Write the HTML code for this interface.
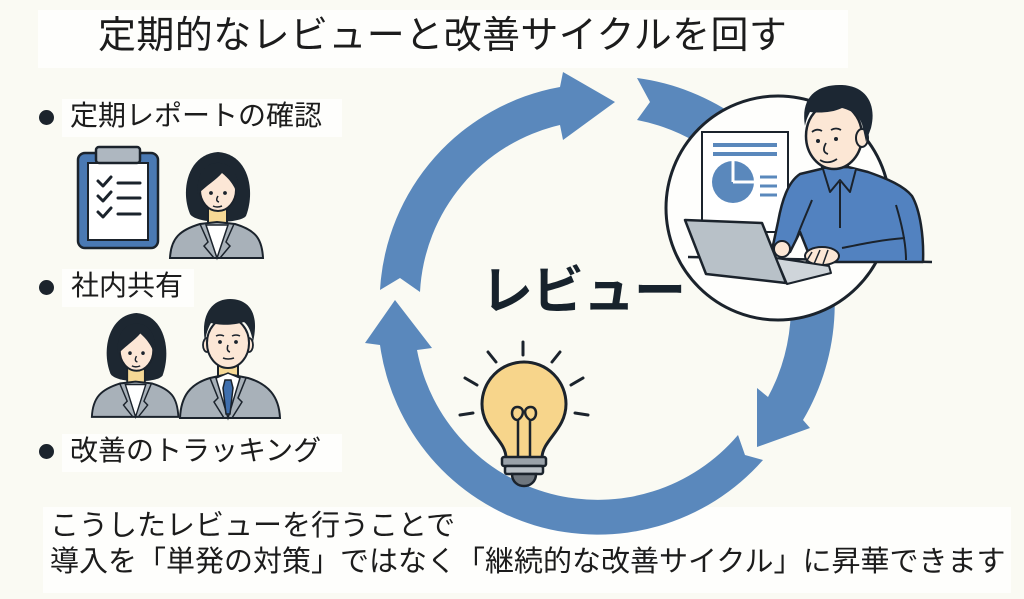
<!DOCTYPE html>
<html lang="ja">
<head>
<meta charset="utf-8">
<style>
  html,body{margin:0;padding:0;}
  body{width:1024px;height:599px;overflow:hidden;background:#fafaf3;position:relative;
       font-family:"Liberation Sans","Noto Sans CJK JP",sans-serif;color:#1c1c1c;}
  .box{position:absolute;background:#fefefc;}
  .t{position:absolute;white-space:nowrap;line-height:1;}
  .dot{position:absolute;width:15px;height:15px;border-radius:50%;background:#1b232c;}
  svg{position:absolute;left:0;top:0;}
</style>
</head>
<body>
<div class="box" style="left:38px;top:10px;width:810px;height:58px;"></div>
<div class="box" style="left:62px;top:99px;width:280px;height:38px;"></div>
<div class="box" style="left:62px;top:269px;width:132px;height:38px;"></div>
<div class="box" style="left:62px;top:434px;width:280px;height:38px;"></div>
<div class="box" style="left:43px;top:507px;width:968px;height:86px;"></div>

<svg width="1024" height="599" viewBox="0 0 1024 599" xmlns="http://www.w3.org/2000/svg">
  <!-- Cycle arrows -->
  <g fill="#5a88bc" stroke="none">
    <path d="M380 290 L400 278 L420 292 A181 181 0 0 1 560 125 L563 140 L615 102 L563 72 L560 87 A219 219 0 0 0 380 290 Z"/>
    <path d="M637 78 L650 102 L637 120 A190 190 0 0 1 768 397 L757 388 L757 447 L810 428 L803 420 A228 228 0 0 0 637 78 Z"/>
    <path d="M763 460 L745 455 L738 435 A184 184 0 0 1 417 350 L432 348 L395 300 L365 343 L380 345 A220 220 0 0 0 763 460 Z"/>
  </g>

  <!-- Reviewer circle -->
  <circle cx="778" cy="208" r="112" fill="#fefefc" stroke="#1b232c" stroke-width="3"/>
  <!-- document -->
  <rect x="702" y="132" width="86" height="100" fill="#fff" stroke="#1b232c" stroke-width="2"/>
  <g stroke="#5a88bc" stroke-width="4">
    <line x1="713" y1="145" x2="777" y2="145"/>
    <line x1="713" y1="154" x2="777" y2="154"/>
  </g>
  <circle cx="733" cy="182" r="21" fill="#5a88bc"/>
  <path d="M733 182 L733 160 M733 182 L755 182" stroke="#fff" stroke-width="3"/>
  <g stroke="#5a88bc" stroke-width="3">
    <line x1="760" y1="177" x2="777" y2="177"/>
    <line x1="760" y1="186" x2="777" y2="186"/>
    <line x1="760" y1="195" x2="777" y2="195"/>
  </g>
  <!-- desk line -->
  <line x1="688" y1="257" x2="932" y2="262" stroke="#1b232c" stroke-width="2.5"/>
  <!-- man -->
  <rect x="822" y="156" width="26" height="18" fill="#fce7d5" stroke="#1b232c" stroke-width="2"/>
  <path d="M800 174 C788 182 782 200 778 222 L772 250 L790 252 L800 232 L812 262 L923 262 C924 236 920 210 912 196 C904 186 888 179 868 172 L848 167 L825 168 Z" fill="#5282c0" stroke="#1b232c" stroke-width="2.5" stroke-linejoin="round"/>
  <path d="M823 169 L830 192 L840 180 L850 192 L856 169" fill="#5282c0" stroke="#1b232c" stroke-width="2" stroke-linejoin="round"/>
  <path d="M840 182 L840 228 M896 205 C902 225 906 245 906 260 M905 238 C880 240 862 244 842 248 M812 200 C806 215 800 228 796 240" fill="none" stroke="#1b232c" stroke-width="2"/>
  <ellipse cx="834" cy="136" rx="28" ry="33" fill="#fce7d5" stroke="#1b232c" stroke-width="2.5"/>
  <ellipse cx="862" cy="138" rx="6" ry="9" fill="#fce7d5" stroke="#1b232c" stroke-width="2"/>
  <path d="M805 126 C800 96 818 84 842 85 C866 86 877 104 871 128 L866 142 L862 124 C858 114 850 110 842 108 C832 113 818 113 810 112 C808 116 806 120 805 126 Z" fill="#1c2733"/>
  <circle cx="818" cy="141" r="2" fill="#1b232c"/>
  <circle cx="836" cy="139" r="2" fill="#1b232c"/>
  <path d="M812 132 Q817 128 822 131 M831 130 Q836 127 841 130" fill="none" stroke="#1b232c" stroke-width="1.8"/>
  <path d="M826 143 Q821 152 828 154" fill="none" stroke="#1b232c" stroke-width="1.8"/>
  <path d="M820 160 Q828 165 837 159" fill="none" stroke="#1b232c" stroke-width="1.8"/>
  <!-- hands -->
  <ellipse cx="782" cy="249" rx="8" ry="8" fill="#fce7d5" stroke="#1b232c" stroke-width="2"/>
  <ellipse cx="822" cy="256" rx="17" ry="9" fill="#fce7d5" stroke="#1b232c" stroke-width="2"/>
  <path d="M812 252 L806 262 M820 250 L814 264 M828 250 L823 264" stroke="#1b232c" stroke-width="1.5"/>
  <!-- laptop -->
  <polygon points="685,220 762,223 786,283 706,274" fill="#b8c1c8" stroke="#1b232c" stroke-width="2.5" stroke-linejoin="round"/>
  <polygon points="776,258 829,266 831,273 787,284" fill="#cfd5da" stroke="#1b232c" stroke-width="2" stroke-linejoin="round"/>

  <!-- Bulb -->
  <g stroke="#1b232c" stroke-width="3" stroke-linecap="round">
    <line x1="523" y1="342" x2="523" y2="355"/>
    <line x1="488" y1="352" x2="496" y2="362"/>
    <line x1="560" y1="352" x2="552" y2="362"/>
    <line x1="465" y1="378" x2="477" y2="385"/>
    <line x1="583" y1="378" x2="571" y2="385"/>
    <line x1="460" y1="415" x2="473" y2="413"/>
    <line x1="575" y1="413" x2="588" y2="415"/>
  </g>
  <path d="M506 458 C506 440 482 430 482 404 A42 42 0 1 1 566 404 C566 430 542 440 542 458 Z" fill="#f7d58b" stroke="#1b232c" stroke-width="3"/>
  <path d="M518 458 L518 420 C510 420 510 406 518 407 C525 408 524 416 518 420 M530 458 L530 420 C538 420 538 406 530 407 C523 408 524 416 530 420" fill="none" stroke="#1b232c" stroke-width="2.5"/>
  <rect x="502" y="457" width="44" height="9" rx="2" fill="#9aa2aa" stroke="#1b232c" stroke-width="2.5"/>
  <rect x="505" y="466" width="38" height="8" rx="2" fill="#b9c0c6" stroke="#1b232c" stroke-width="2.5"/>
  <path d="M512 474 L536 474 C536 482 530 486 524 486 C518 486 512 482 512 474 Z" fill="#6e767e" stroke="#1b232c" stroke-width="2.5"/>

  <!-- Clipboard -->
  <rect x="78" y="153" width="80" height="95" rx="7" fill="#4a79b3" stroke="#1b232c" stroke-width="2.5"/>
  <rect x="88" y="163" width="60" height="77" fill="#fff" stroke="#1b232c" stroke-width="2"/>
  <rect x="96" y="147" width="44" height="16" rx="3" fill="#aeb7c0" stroke="#1b232c" stroke-width="2.5"/>
  <g fill="none" stroke="#1b232c" stroke-width="3" stroke-linecap="round" stroke-linejoin="round">
    <polyline points="98,181 103,186 111,177"/>
    <polyline points="98,196 103,201 111,192"/>
    <polyline points="98,212 103,217 111,208"/>
    <line x1="118" y1="183" x2="140" y2="183"/>
    <line x1="118" y1="198" x2="140" y2="198"/>
    <line x1="118" y1="214" x2="140" y2="214"/>
  </g>

  <!-- Woman (top) -->
  <g transform="translate(168,150)">
    <path d="M22 64 C12 40 20 4 50 2 C80 4 88 40 78 66 C72 74 28 74 22 64Z" fill="#1d2731"/>
    <rect x="40" y="54" width="19" height="22" fill="#f6d996" stroke="#1b232c" stroke-width="2"/>
    <path d="M2 108 C3 88 12 80 32 74 L49 72 L67 74 C87 80 94 88 95 108Z" fill="#a8b1b9" stroke="#1b232c" stroke-width="2"/>
    <path d="M38 75 L49 108 L60 75Z" fill="#fff" stroke="#1b232c" stroke-width="1.5"/>
    <path d="M32 74 L40 92 L36 96 L46 108 M66 74 L58 92 L62 96 L52 108" fill="none" stroke="#1b232c" stroke-width="1.5"/>
    <ellipse cx="50" cy="40" rx="18" ry="21" fill="#fce7d6" stroke="#1b232c" stroke-width="2"/>
    <path d="M30 44 C28 20 40 12 52 13 C64 14 72 24 70 46 C66 34 60 28 54 23 C48 30 38 36 30 44Z" fill="#1d2731"/>
    <circle cx="43" cy="43" r="1.9" fill="#1b232c"/>
    <circle cx="57" cy="43" r="1.9" fill="#1b232c"/>
    <path d="M50 46 Q47 51 51 52" fill="none" stroke="#1b232c" stroke-width="1.5"/>
    <path d="M45 56 Q49 58 54 56" fill="none" stroke="#1b232c" stroke-width="1.5"/>
  </g>

  <!-- Woman (bottom) -->
  <g transform="translate(90,311) scale(0.93,0.98)">
    <path d="M22 64 C12 40 20 4 50 2 C80 4 88 40 78 66 C72 74 28 74 22 64Z" fill="#1d2731"/>
    <rect x="40" y="54" width="19" height="22" fill="#f6d996" stroke="#1b232c" stroke-width="2"/>
    <path d="M2 108 C3 88 12 80 32 74 L49 72 L67 74 C87 80 94 88 95 108Z" fill="#a8b1b9" stroke="#1b232c" stroke-width="2"/>
    <path d="M38 75 L49 108 L60 75Z" fill="#fff" stroke="#1b232c" stroke-width="1.5"/>
    <path d="M32 74 L40 92 L36 96 L46 108 M66 74 L58 92 L62 96 L52 108" fill="none" stroke="#1b232c" stroke-width="1.5"/>
    <ellipse cx="50" cy="40" rx="18" ry="21" fill="#fce7d6" stroke="#1b232c" stroke-width="2"/>
    <path d="M30 44 C28 20 40 12 52 13 C64 14 72 24 70 46 C66 34 60 28 54 23 C48 30 38 36 30 44Z" fill="#1d2731"/>
    <circle cx="43" cy="43" r="1.9" fill="#1b232c"/>
    <circle cx="57" cy="43" r="1.9" fill="#1b232c"/>
    <path d="M50 46 Q47 51 51 52" fill="none" stroke="#1b232c" stroke-width="1.5"/>
    <path d="M45 56 Q49 58 54 56" fill="none" stroke="#1b232c" stroke-width="1.5"/>
  </g>

  <!-- Man (bottom) -->
  <g transform="translate(180,300)">
    <rect x="38" y="55" width="20" height="24" fill="#f6d996" stroke="#1b232c" stroke-width="2"/>
    <path d="M0 118 C1 96 10 84 30 78 L48 74 L68 78 C88 84 99 96 100 118Z" fill="#a8b1b9" stroke="#1b232c" stroke-width="2"/>
    <path d="M36 78 L48 118 L60 78 L48 73Z" fill="#fff" stroke="#1b232c" stroke-width="1.5"/>
    <path d="M45 80 L51 80 L53 88 L50 114 L46 114 L43 88Z" fill="#3f6fae" stroke="#1b232c" stroke-width="1.5"/>
    <path d="M30 78 L38 98 L34 102 L44 118 M66 78 L58 98 L62 102 L52 118" fill="none" stroke="#1b232c" stroke-width="1.5"/>
    <ellipse cx="27" cy="45" rx="4" ry="7" fill="#fce7d6" stroke="#1b232c" stroke-width="1.8"/>
    <ellipse cx="69" cy="45" rx="4" ry="7" fill="#fce7d6" stroke="#1b232c" stroke-width="1.8"/>
    <ellipse cx="48" cy="43" rx="21" ry="25" fill="#fce7d6" stroke="#1b232c" stroke-width="2"/>
    <path d="M25 42 C20 12 34 -1 50 -1 C68 -1 80 12 73 42 C71 31 68 25 64 22 C52 26 38 25 31 23 C28 28 26 34 25 42Z" fill="#1d2731"/>
    <circle cx="40" cy="42" r="1.9" fill="#1b232c"/>
    <circle cx="56" cy="42" r="1.9" fill="#1b232c"/>
    <path d="M36 36 Q40 34 44 36 M52 36 Q56 34 60 36" fill="none" stroke="#1b232c" stroke-width="1.5"/>
    <path d="M48 45 Q46 51 50 52" fill="none" stroke="#1b232c" stroke-width="1.5"/>
    <path d="M43 58 Q48 60 54 58" fill="none" stroke="#1b232c" stroke-width="1.5"/>
  </g>
</svg>

<div class="t" style="left:98px;top:17px;font-size:38px;letter-spacing:0.4px;">定期的なレビューと改善サイクルを回す</div>

<div class="dot" style="left:39px;top:110px;"></div>
<div class="t" style="left:70px;top:102px;font-size:28px;">定期レポートの確認</div>
<div class="dot" style="left:39px;top:280px;"></div>
<div class="t" style="left:71px;top:272px;font-size:28px;">社内共有</div>
<div class="dot" style="left:39px;top:444px;"></div>
<div class="t" style="left:70px;top:437px;font-size:28px;">改善のトラッキング</div>

<div class="t" style="left:481px;top:266px;font-size:52px;font-weight:bold;letter-spacing:-1px;color:#17222c;">レビュー</div>

<div class="t" style="left:50px;top:512px;font-size:29px;">こうしたレビューを行うことで</div>
<div class="t" style="left:50px;top:548px;font-size:29px;">導入を「単発の対策」ではなく「継続的な改善サイクル」に昇華できます</div>
</body>
</html>
